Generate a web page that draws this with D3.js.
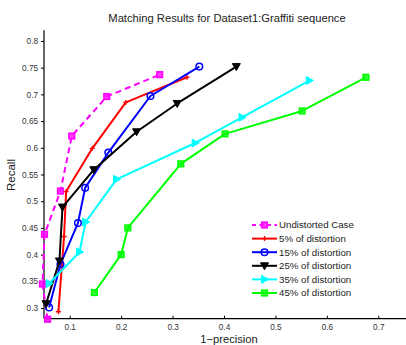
<!DOCTYPE html>
<html><head><meta charset="utf-8">
<script src="https://cdn.jsdelivr.net/npm/d3@7"></script>
<style>
body{margin:0;background:#fff;}
svg{display:block;font-family:"Liberation Sans",Arial,sans-serif;}
</style></head>
<body><svg id="c" width="406" height="345"></svg>
<script>
const seriesNames = ["Undistorted Case","5% of distortion","15% of distortion","25% of distortion","35% of distortion","45% of distortion"];
const undistortedX = [0.057,0.047,0.051,0.082,0.104,0.172,0.275];
const undistortedY = [0.279,0.345,0.438,0.519,0.622,0.696,0.737];
const d5X  = [0.078,0.089,0.093,0.144,0.209,0.328];
const d5Y  = [0.293,0.434,0.518,0.599,0.685,0.732];
const d15X = [0.060,0.082,0.116,0.130,0.175,0.257,0.352];
const d15Y = [0.301,0.382,0.459,0.525,0.591,0.697,0.752];
const d25X = [0.054,0.080,0.086,0.147,0.230,0.309,0.424];
const d25Y = [0.308,0.388,0.489,0.559,0.630,0.683,0.752];
const d35X = [0.060,0.119,0.131,0.191,0.344,0.435,0.566];
const d35Y = [0.346,0.405,0.461,0.541,0.609,0.657,0.726];
const d45X = [0.148,0.200,0.213,0.316,0.402,0.552,0.676];
const d45Y = [0.329,0.400,0.450,0.570,0.626,0.669,0.732];
const xTicks = [0.1,0.2,0.3,0.4,0.5,0.6,0.7];
const yTicks = [0.3,0.35,0.4,0.45,0.5,0.55,0.6,0.65,0.7,0.75,0.8];
const colors = ["#ff00ff","#ff0000","#0000ff","#000000","#00ffff","#00ff00"];
const markers = ["square","plus","circle","tridown","triright","square"];
const dashes = ["6,4",null,null,null,null,null];

const seriesX = [undistortedX,d5X,d15X,d25X,d35X,d45X];
const seriesY = [undistortedY,d5Y,d15Y,d25Y,d35Y,d45Y];

const svg = d3.select("#c");
const x = d3.scaleLinear().domain([0.05,0.75]).range([44,404]);
const y = d3.scaleLinear().domain([0.28,0.82]).range([318.7,30.3]);

// title
svg.append("text").attr("x",227).attr("y",22).attr("text-anchor","middle")
  .attr("font-size",11.2).attr("fill","#222").text("Matching Results for Dataset1:Graffiti sequence");

// axes
const xAxis = d3.axisBottom(x).tickValues(xTicks).tickSize(-3).tickPadding(5).tickFormat(d3.format("~g"));
const gx = svg.append("g").attr("transform","translate(0,"+y.range()[0]+")").call(xAxis);
gx.select(".domain").attr("stroke","#000").attr("stroke-width",1.2).attr("d","M"+x.range()[0]+",0H406");
gx.selectAll("text").attr("font-size",8.2).attr("fill","#333").attr("font-family","Liberation Sans, Arial, sans-serif");

const yAxis = d3.axisLeft(y).tickValues(yTicks).tickSize(3).tickPadding(3).tickFormat(d3.format("~g"));
const gy = svg.append("g").attr("transform","translate("+x.range()[0]+",0)").call(yAxis);
gy.select(".domain").attr("stroke","#000").attr("stroke-width",1.2).attr("d","M0,"+y.range()[1]+"V"+y.range()[0]);
gy.selectAll("text").attr("font-size",8.2).attr("fill","#333").attr("font-family","Liberation Sans, Arial, sans-serif");

svg.append("text").attr("transform","translate(15,175) rotate(-90)").attr("text-anchor","middle")
  .attr("font-size",11.5).attr("fill","#222").text("Recall");
svg.append("text").attr("x",229).attr("y",342.5).attr("text-anchor","middle")
  .attr("font-size",11.2).attr("fill","#222").text("1\u2212precision");

function drawMarker(g, type, cx, cy, color){
  if(type==="square"){
    g.append("rect").attr("x",cx-2.8).attr("y",cy-2.8).attr("width",5.6).attr("height",5.6)
      .attr("fill",color).attr("fill-opacity",0.75).attr("stroke",color).attr("stroke-width",1.6);
  } else if(type==="circle"){
    g.append("circle").attr("cx",cx).attr("cy",cy).attr("r",3.3)
      .attr("fill","none").attr("stroke",color).attr("stroke-width",1.5);
  } else if(type==="plus"){
    g.append("path").attr("d",`M${cx-2.5},${cy}H${cx+2.5}M${cx},${cy-2.5}V${cy+2.5}`)
      .attr("stroke",color).attr("stroke-width",1.4);
  } else if(type==="tridown"){
    g.append("path").attr("d",`M${cx-4},${cy-3}L${cx+4},${cy-3}L${cx},${cy+4}Z`)
      .attr("fill",color).attr("stroke",color).attr("stroke-width",1);
  } else if(type==="triright"){
    g.append("path").attr("d",`M${cx-3},${cy-4}L${cx-3},${cy+4}L${cx+4},${cy}Z`)
      .attr("fill",color).attr("stroke",color).attr("stroke-width",1);
  }
}

const line = d3.line().x(d=>x(d[0])).y(d=>y(d[1]));
seriesX.forEach((xs,i)=>{
  const pts = xs.map((v,j)=>[v,seriesY[i][j]]);
  const g = svg.append("g");
  g.append("path").attr("d",line(pts)).attr("fill","none").attr("stroke",colors[i])
    .attr("stroke-width",2).attr("stroke-dasharray",dashes[i]).attr("stroke-linejoin","round");
  pts.forEach(p=>drawMarker(g,markers[i],x(p[0]),y(p[1]),colors[i]));
});

// legend
const lg = svg.append("g");
seriesNames.forEach((name,i)=>{
  const ly = 225 + i*13.6;
  lg.append("line").attr("x1",252).attr("x2",277).attr("y1",ly).attr("y2",ly)
    .attr("stroke",colors[i]).attr("stroke-width",2).attr("stroke-dasharray",i===0?"4,3.5":null);
  drawMarker(lg,markers[i],264.5,ly,colors[i]);
  lg.append("text").attr("x",279).attr("y",ly+3.3).attr("font-size",9.7).attr("fill","#222").text(name);
});
</script></body></html>
